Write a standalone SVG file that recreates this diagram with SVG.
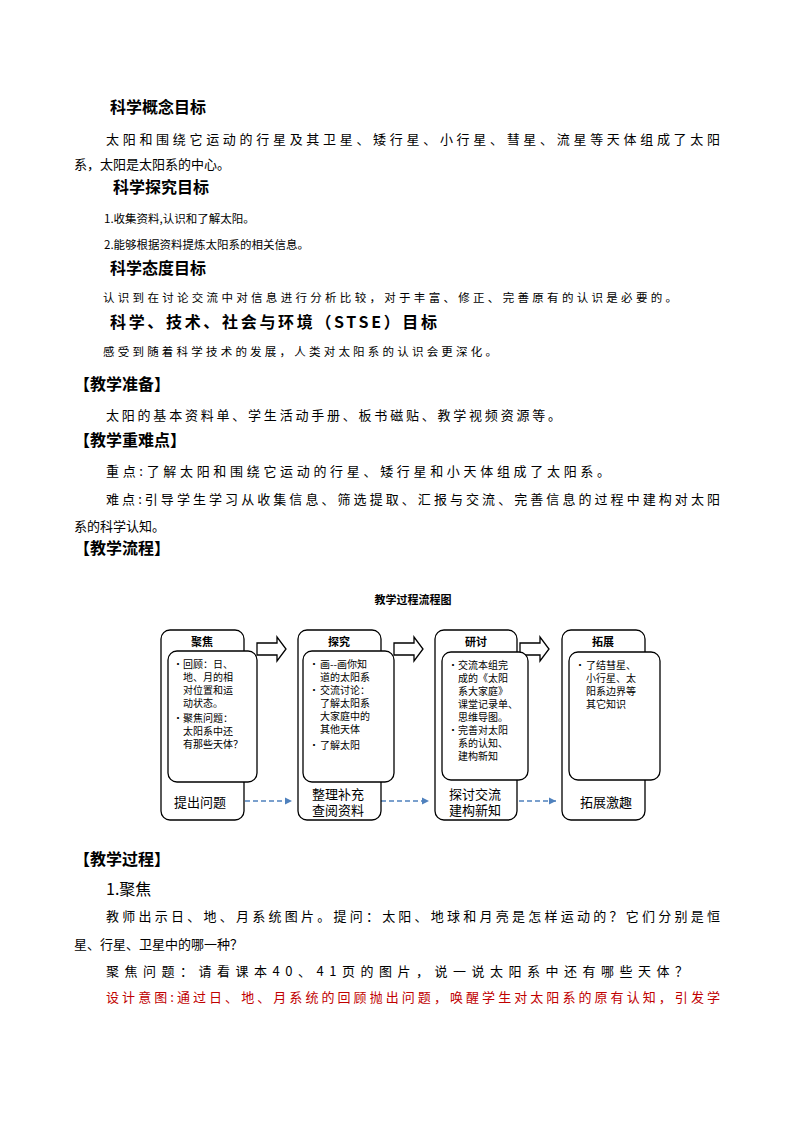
<svg xmlns="http://www.w3.org/2000/svg" width="794" height="1123" viewBox="0 0 794 1123">
<defs>
<style>
text{font-family:"Noto Sans CJK SC","Noto Sans",sans-serif;fill:#000}
.h{font-size:16px;font-weight:bold}
.b{font-size:13px}
.s{font-size:11.5px}
.f{font-size:10px}
.fb{font-size:11px;font-weight:bold}
.o{fill:#fff;stroke:#000;stroke-width:1.3}
.d{stroke:#4f81bd;stroke-width:1.5;stroke-dasharray:5,3;fill:none}
</style>
<marker id="ah" markerWidth="6" markerHeight="6" refX="5" refY="3" orient="auto"><path d="M0,0.5 L5,3 L0,5.5z" fill="#4f81bd"/></marker>
</defs>
<rect width="794" height="1123" fill="#fff"/>
<text class="h" x="110" y="113">科学概念目标</text>
<text class="b" x="106" y="144" textLength="614">太阳和围绕它运动的行星及其卫星、矮行星、小行星、彗星、流星等天体组成了太阳</text>
<text class="b" x="74" y="169">系，太阳是太阳系的中心。</text>
<text class="h" x="113" y="193">科学探究目标</text>
<text class="s" x="104" y="223">1.收集资料,认识和了解太阳。</text>
<text class="s" x="104" y="249">2.能够根据资料提炼太阳系的相关信息。</text>
<text class="h" x="110" y="274">科学态度目标</text>
<text class="s" x="103" y="302" textLength="574">认识到在讨论交流中对信息进行分析比较，对于丰富、修正、完善原有的认识是必要的。</text>
<text class="h" x="110" y="328" textLength="327">科学、技术、社会与环境（STSE）目标</text>
<text class="s" x="103" y="356" textLength="394">感受到随着科学技术的发展，人类对太阳系的认识会更深化。</text>
<text class="h" x="74" y="390">【教学准备】</text>
<text class="b" x="106" y="420" textLength="455">太阳的基本资料单、学生活动手册、板书磁贴、教学视频资源等。</text>
<text class="h" x="74" y="446">【教学重难点】</text>
<text class="b" x="106" y="476" textLength="504">重点:了解太阳和围绕它运动的行星、矮行星和小天体组成了太阳系。</text>
<text class="b" x="106" y="504" textLength="614">难点:引导学生学习从收集信息、筛选提取、汇报与交流、完善信息的过程中建构对太阳</text>
<text class="b" x="74" y="531">系的科学认知。</text>
<text class="h" x="74" y="554">【教学流程】</text>

<text class="fb" x="413" y="604" text-anchor="middle">教学过程流程图</text>

<g id="connectors">
<path class="o" d="M257,643 H277 V637 L286,649 L277,661 V655 H257z"/>
<path class="o" d="M394,643 H414 V637 L423,649 L414,661 V655 H394z"/>
<path class="o" d="M520,643 H540 V637 L549,649 L540,661 V655 H520z"/>
<line class="d" x1="237" y1="801" x2="292" y2="801" marker-end="url(#ah)"/>
<line class="d" x1="373" y1="801" x2="429" y2="801" marker-end="url(#ah)"/>
<line class="d" x1="511" y1="801" x2="556" y2="801" marker-end="url(#ah)"/>
</g>

<g id="n1">
<rect class="o" x="161" y="630" width="83" height="190" rx="9"/>
<text class="fb" x="202" y="646" text-anchor="middle">聚焦</text>
<rect class="o" x="168" y="651" width="89" height="131" rx="9"/>
<text class="f" x="173" y="668">•</text>
<text class="f" x="183" y="668">回顾：日、</text><text class="f" x="183" y="681">地、月的相</text><text class="f" x="183" y="694">对位置和运</text><text class="f" x="183" y="707">动状态。</text>
<text class="f" x="173" y="722">•</text>
<text class="f" x="183" y="722">聚焦问题：</text><text class="f" x="183" y="735">太阳系中还</text><text class="f" x="183" y="748">有那些天体？</text>
<text class="b" x="174" y="807">提出问题</text>
</g>
<g id="n2">
<rect class="o" x="298" y="630" width="83" height="190" rx="9"/>
<text class="fb" x="339" y="646" text-anchor="middle">探究</text>
<rect class="o" x="303" y="651" width="91" height="131" rx="9"/>
<text class="f" x="309" y="668">•</text>
<text class="f" x="320" y="668">画--画你知</text><text class="f" x="320" y="681">道的太阳系</text>
<text class="f" x="309" y="694">•</text>
<text class="f" x="320" y="694">交流讨论：</text><text class="f" x="320" y="707">了解太阳系</text><text class="f" x="320" y="720">大家庭中的</text><text class="f" x="320" y="733">其他天体</text>
<text class="f" x="309" y="749">•</text>
<text class="f" x="320" y="749">了解太阳</text>
<text class="b" x="312" y="799">整理补充</text><text class="b" x="312" y="815">查阅资料</text>
</g>
<g id="n3">
<rect class="o" x="435" y="630" width="82" height="190" rx="9"/>
<text class="fb" x="476" y="646" text-anchor="middle">研讨</text>
<rect class="o" x="442" y="652" width="86" height="128" rx="9"/>
<text class="f" x="448" y="669">•</text>
<text class="f" x="458" y="669">交流本组完</text><text class="f" x="458" y="682">成的《太阳</text><text class="f" x="458" y="695">系大家庭》</text><text class="f" x="458" y="708">课堂记录单、</text><text class="f" x="458" y="721">思维导图。</text>
<text class="f" x="448" y="734">•</text>
<text class="f" x="458" y="734">完善对太阳</text><text class="f" x="458" y="747">系的认知、</text><text class="f" x="458" y="760">建构新知</text>
<text class="b" x="449" y="799">探讨交流</text><text class="b" x="449" y="815">建构新知</text>
</g>
<g id="n4">
<rect class="o" x="562" y="630" width="83" height="190" rx="9"/>
<text class="fb" x="603" y="646" text-anchor="middle">拓展</text>
<rect class="o" x="569" y="652" width="91" height="128" rx="9"/>
<text class="f" x="575" y="669">•</text>
<text class="f" x="586" y="669">了结彗星、</text><text class="f" x="586" y="682">小行星、太</text><text class="f" x="586" y="695">阳系边界等</text><text class="f" x="586" y="708">其它知识</text>
<text class="b" x="580" y="807">拓展激趣</text>
</g>

<text class="h" x="74" y="865">【教学过程】</text>
<text class="h" x="106" y="895" style="font-weight:normal">1.聚焦</text>
<text class="b" x="106" y="921" textLength="614">教师出示日、地、月系统图片。提问：太阳、地球和月亮是怎样运动的？它们分别是恒</text>
<text class="b" x="74" y="949">星、行星、卫星中的哪一种？</text>
<text class="b" x="106" y="976" textLength="582">聚焦问题：请看课本40、41页的图片，说一说太阳系中还有哪些天体？</text>
<text class="b" x="106" y="1002" textLength="614" style="fill:#c00000">设计意图:通过日、地、月系统的回顾抛出问题，唤醒学生对太阳系的原有认知，引发学</text>
</svg>
